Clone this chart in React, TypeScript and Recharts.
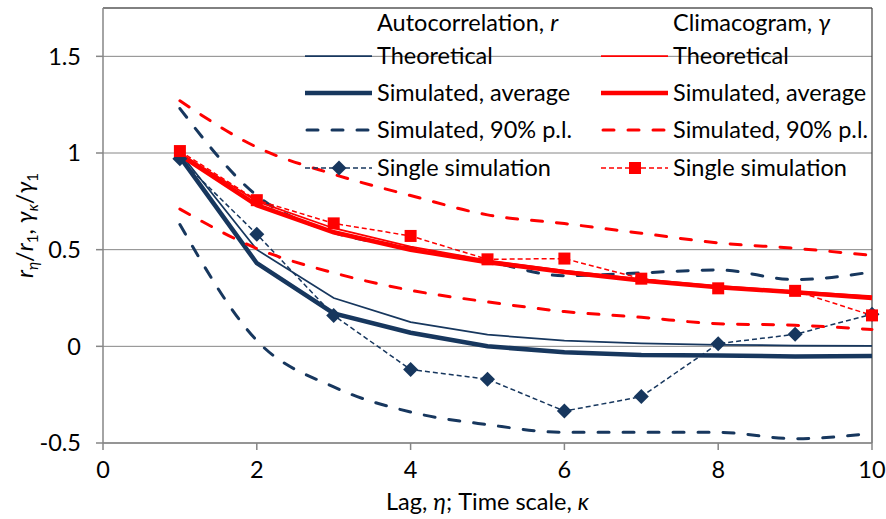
import React from 'react';
import { LineChart, Line, XAxis, YAxis, CartesianGrid, ReferenceLine } from 'recharts';

// Lag / time scale (eta, kappa)
const lags = [1, 2, 3, 4, 5, 6, 7, 8, 9, 10];

// Autocorrelation r_eta / r_1
const acTheoretical = [1, 0.5, 0.25, 0.125, 0.06, 0.03, 0.015, 0.008, 0.004, 0.002];
const acAverage = [0.98, 0.43, 0.17, 0.07, 0.0, -0.03, -0.045, -0.047, -0.052, -0.05];
const acUpper = [1.23, 0.78, 0.59, 0.51, 0.44, 0.365, 0.38, 0.395, 0.345, 0.385];
const acLower = [0.63, 0.03, -0.21, -0.34, -0.405, -0.445, -0.445, -0.445, -0.478, -0.45];
const acSingle = [0.97, 0.58, 0.16, -0.12, -0.17, -0.335, -0.26, 0.014, 0.062, 0.166];

// Climacogram gamma_kappa / gamma_1
const clTheoretical = [1, 0.75, 0.611, 0.516, 0.445, 0.391, 0.348, 0.313, 0.284, 0.26];
const clAverage = [0.99, 0.73, 0.59, 0.5, 0.435, 0.385, 0.34, 0.305, 0.28, 0.25];
const clUpper = [1.27, 1.03, 0.89, 0.78, 0.68, 0.635, 0.585, 0.535, 0.507, 0.47];
const clLower = [0.71, 0.506, 0.38, 0.29, 0.23, 0.18, 0.15, 0.117, 0.109, 0.087];
const clSingle = [1.01, 0.756, 0.636, 0.571, 0.45, 0.454, 0.35, 0.3, 0.287, 0.16];

const xTicks = [0, 2, 4, 6, 8, 10];
const yTicks = [-0.5, 0, 0.5, 1, 1.5];
const legendRows = ['Theoretical', 'Simulated, average', 'Simulated, 90% p.l.', 'Single simulation'];

const NAVY = '#17375E';
const RED = '#FF0000';
const GRID = '#868686';
const FONT = 'Lato, "Open Sans", sans-serif';
const FS = 23.5;

const data = lags.map((x, i) => ({
  x,
  acTheo: acTheoretical[i], acAvg: acAverage[i], acHi: acUpper[i], acLo: acLower[i], acOne: acSingle[i],
  clTheo: clTheoretical[i], clAvg: clAverage[i], clHi: clUpper[i], clLo: clLower[i], clOne: clSingle[i],
}));

// line styles per legend row: theoretical, average, 90% p.l., single
const styles: { width: number; dash?: string; cap: 'butt' | 'round'; curve: 'linear' | 'monotone' }[] = [
  { width: 1.75, cap: 'butt', curve: 'linear' },
  { width: 4.5, cap: 'butt', curve: 'linear' },
  { width: 3, dash: '11 14', cap: 'round', curve: 'monotone' },
  { width: 1.5, dash: '5 3', cap: 'butt', curve: 'linear' },
];

const Diamond = (props: any) => {
  const { cx, cy, index } = props;
  if (cx == null || cy == null) return <g key={index} />;
  const r = 7.5;
  return <path key={index} d={`M${cx},${cy - r}L${cx + r},${cy}L${cx},${cy + r}L${cx - r},${cy}Z`} fill={NAVY} />;
};

const Square = (props: any) => {
  const { cx, cy, index } = props;
  if (cx == null || cy == null) return <g key={index} />;
  const s = 12;
  return <rect key={index} x={cx - s / 2} y={cy - s / 2} width={s} height={s} fill={RED} />;
};

const YLabel = () => {
  const sub = { fontSize: 15 };
  return (
    <text transform="translate(33,225.5) rotate(-90)" textAnchor="middle" fontSize={FS} fontFamily={FONT} fill="#000">
      <tspan fontStyle="italic">r</tspan>
      <tspan {...sub} fontStyle="italic" dy={5}>η</tspan>
      <tspan dy={-5}>/</tspan>
      <tspan fontStyle="italic">r</tspan>
      <tspan {...sub} dy={5}>1</tspan>
      <tspan dy={-5}>, </tspan>
      <tspan fontStyle="italic">γ</tspan>
      <tspan {...sub} fontStyle="italic" dy={5}>κ</tspan>
      <tspan dy={-5}>/</tspan>
      <tspan fontStyle="italic">γ</tspan>
      <tspan {...sub} dy={5}>1</tspan>
    </text>
  );
};

const XLabel = () => (
  <text x={487.5} y={510} textAnchor="middle" fontSize={FS} fontFamily={FONT} fill="#000">
    Lag, <tspan fontStyle="italic">η</tspan>; Time scale, <tspan fontStyle="italic">κ</tspan>
  </text>
);

// legend drawn as an overlay in two columns
const LegendColumn = ({ x0, color, title, symbol, marker }: any) => {
  const rowY = [56, 93, 130, 168];
  const textX = x0 + 72;
  return (
    <g fontFamily={FONT} fontSize={FS} fill="#000">
      <text x={textX} y={23} dy="0.35em">
        {title}<tspan fontStyle="italic">{symbol}</tspan>
      </text>
      {legendRows.map((lbl, i) => (
        <g key={lbl}>
          <line x1={x0 + (styles[i].cap === 'round' ? 2 : 0)} x2={x0 + 67} y1={rowY[i]} y2={rowY[i]} stroke={color}
            strokeWidth={styles[i].width} strokeDasharray={styles[i].dash} strokeLinecap={styles[i].cap} />
          {i === 3 && marker({ cx: x0 + 34, cy: rowY[i], index: 0 })}
          <text x={textX} y={rowY[i]} dy="0.35em">{lbl}</text>
        </g>
      ))}
    </g>
  );
};

export default function App() {
  const keysAc = ['acTheo', 'acAvg', 'acHi', 'acLo', 'acOne'];
  const keysCl = ['clTheo', 'clAvg', 'clHi', 'clLo', 'clOne'];
  const styleIdx = [0, 1, 2, 2, 3];

  const renderLines = (keys: string[], color: string, marker: any) =>
    keys.map((k, i) => {
      const st = styles[styleIdx[i]];
      return (
        <Line key={k} type={st.curve} dataKey={k} stroke={color} strokeWidth={st.width}
          strokeDasharray={st.dash} strokeLinecap={st.cap} dot={i === 4 ? marker : false} activeDot={false}
          isAnimationActive={false} />
      );
    });

  return (
    <div style={{ position: 'absolute', left: 0, top: 0, width: 886, height: 519, background: '#fff', fontFamily: FONT }}>
      <LineChart width={886} height={519} data={data} margin={{ top: 8, right: 14, left: 0, bottom: 0 }}>
        <CartesianGrid vertical={false} stroke={GRID} strokeWidth={1} />
        <ReferenceLine y={1.75} stroke="#404040" strokeWidth={1.2} />
        <ReferenceLine x={10} stroke="#404040" strokeWidth={1.2} />
        <XAxis dataKey="x" type="number" domain={[0, 10]} ticks={xTicks} height={76}
          stroke={GRID} strokeWidth={1.5} tickSize={7} tickMargin={11}
          tick={{ fill: '#000', fontSize: FS, fontFamily: FONT }} label={<XLabel />} />
        <YAxis type="number" domain={[-0.5, 1.75]} ticks={yTicks} width={103}
          stroke={GRID} strokeWidth={1.5} tickSize={7} tickMargin={15}
          tick={{ fill: '#000', fontSize: FS, fontFamily: FONT }} label={<YLabel />} />
        {renderLines(keysAc, NAVY, Diamond)}
        {renderLines(keysCl, RED, Square)}
      </LineChart>
      <svg width={886} height={200} style={{ position: 'absolute', left: 0, top: 0 }}>
        <LegendColumn x0={305} color={NAVY} title="Autocorrelation, " symbol="r" marker={Diamond} />
        <LegendColumn x0={601} color={RED} title="Climacogram, " symbol="γ" marker={Square} />
      </svg>
    </div>
  );
}
